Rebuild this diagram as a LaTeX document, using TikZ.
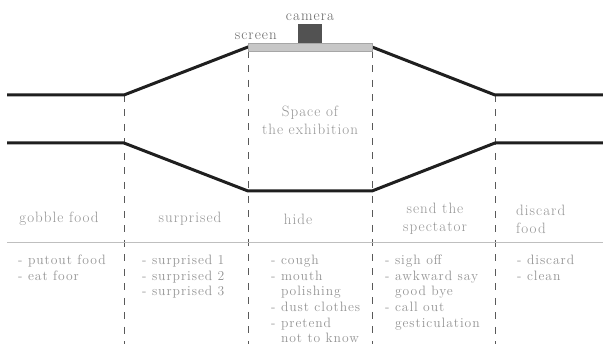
\documentclass[tikz,border=0pt]{standalone}
\usepackage{fontspec}
\setmainfont{Latin Modern Roman}[LetterSpace=7]
\definecolor{txtgray}{HTML}{949494}
\begin{document}
\begin{tikzpicture}[x=1pt,y=-1pt,
route/.style={line width=3pt,black!88,line join=round},
divider/.style={black!65,line width=0.7pt,dash pattern=on 7pt off 7.5pt},
stage/.style={text=txtgray,font=\fontsize{15}{18}\selectfont,align=center,inner sep=0pt},
items/.style={text=txtgray,font=\fontsize{13.6}{15.6}\selectfont,align=left,anchor=north west,inner sep=0pt}]
\useasboundingbox (0,0) rectangle (603,344);
\coordinate (a1) at (7,95); \coordinate (a2) at (124,95); \coordinate (a3) at (248,47);
\coordinate (a4) at (372,47); \coordinate (a5) at (495,95); \coordinate (a6) at (603,95);
\coordinate (b1) at (7,143); \coordinate (b2) at (124,143); \coordinate (b3) at (248,191);
\coordinate (b4) at (372,191); \coordinate (b5) at (495,143); \coordinate (b6) at (603,143);
\draw[divider] (a2) -- (124,344);
\draw[divider] (248,51) -- (248,344);
\draw[divider] (372,51) -- (372,344);
\draw[divider] (a5) -- (495,344);
\draw[black!25,line width=0.9pt] (7,242) -- (603,242);
\draw[route] (a1) -- (a2) -- (a3) -- (a4) -- (a5) -- (a6);
\draw[route] (b1) -- (b2) -- (b3) -- (b4) -- (b5) -- (b6);
\draw[black!35,fill=black!22,line width=0.5pt] (248,43) rectangle (372,51);
\fill[black!68] (298,24) rectangle (322,43);
\node[stage,text=black!60] (camera) at (310,17) {camera};
\node[stage,text=black!60,anchor=east] (screen) at (277,36) {screen};
\node[stage] (space) at (310,120) {Space of\\the exhibition};
\node[stage] (gobble) at (59,219) {gobble food};
\node[stage] (surprised) at (190,219) {surprised};
\node[stage] (hide) at (298,219) {hide};
\node[stage] (send) at (435,219) {send the\\spectator};
\node[stage,align=left,anchor=west] (discard) at (516,219) {discard\\food};
\node[items] (gobblelist) at (18,255) {- putout food\\- eat foor};
\node[items] (surprisedlist) at (142,255) {- surprised 1\\- surprised 2\\- surprised 3};
\node[items] (hidelist) at (271,255) {- cough\\- mouth\\\phantom{- }polishing\\- dust clothes\\- pretend\\\phantom{- }not to know};
\node[items] (sendlist) at (385,255) {- sigh off\\- awkward say\\\phantom{- }good bye\\- call out\\\phantom{- }gesticulation};
\node[items] (discardlist) at (517,255) {- discard\\- clean};
\end{tikzpicture}
\end{document}
